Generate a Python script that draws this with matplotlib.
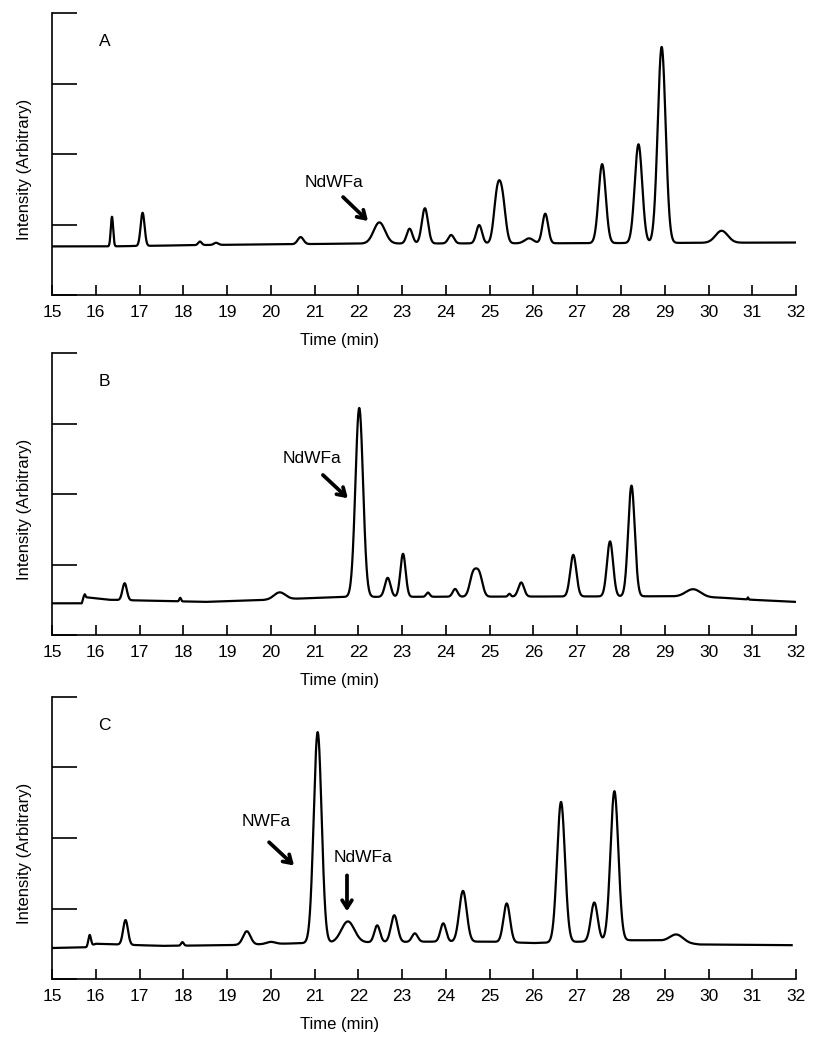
import matplotlib
matplotlib.use("Agg")
import matplotlib.pyplot as plt
import numpy as np

plt.rcParams['font.family'] = ['Liberation Sans', 'DejaVu Sans']

# peak tables: retention time (min), height above baseline, width (sigma, min)
peak_t_A = [16.37, 17.07, 18.38, 18.75, 20.68, 22.48, 23.17, 23.52, 24.12, 24.76, 25.17, 25.29,
            25.90, 26.27, 27.57, 28.40, 28.93, 30.30]
peak_h_A = [0.42, 0.47, 0.05, 0.03, 0.10, 0.30, 0.21, 0.50, 0.12, 0.26, 0.65, 0.58,
            0.07, 0.42, 1.12, 1.40, 2.78, 0.17]
peak_w_A = [0.027, 0.045, 0.04, 0.05, 0.065, 0.13, 0.065, 0.07, 0.065, 0.065, 0.075, 0.075,
            0.10, 0.065, 0.082, 0.085, 0.09, 0.14]
base_t_A = [15, 16.3, 18.5, 22.0, 26.8, 32]
base_y_A = [0.69, 0.69, 0.71, 0.73, 0.735, 0.745]

peak_t_B = [15.75, 16.66, 17.93, 20.20, 22.02, 22.67, 23.02, 23.59, 24.21, 24.62, 24.76,
            25.45, 25.72, 26.91, 27.75, 28.24, 29.65, 30.90]
peak_h_B = [0.04, 0.24, 0.05, 0.10, 2.68, 0.27, 0.61, 0.06, 0.11, 0.31, 0.31,
            0.04, 0.20, 0.59, 0.78, 1.57, 0.11, 0.03]
peak_w_B = [0.015, 0.05, 0.02, 0.13, 0.087, 0.065, 0.06, 0.04, 0.055, 0.075, 0.075,
            0.03, 0.065, 0.07, 0.07, 0.075, 0.17, 0.01]
base_t_B = [15, 15.68, 15.72, 16.3, 18.5, 20.0, 21.5, 29.0, 30.3, 31.0, 32]
base_y_B = [0.45, 0.45, 0.54, 0.50, 0.47, 0.50, 0.54, 0.55, 0.53, 0.50, 0.47]

peak_t_C = [15.86, 16.68, 17.98, 19.45, 20.00, 21.07, 21.76, 22.43, 22.82, 23.29, 23.94,
            24.39, 25.39, 26.63, 27.39, 27.85, 29.27]
peak_h_C = [0.16, 0.35, 0.05, 0.19, 0.03, 2.99, 0.30, 0.24, 0.38, 0.12, 0.26,
            0.72, 0.55, 1.99, 0.55, 2.12, 0.11]
peak_w_C = [0.03, 0.055, 0.03, 0.085, 0.10, 0.09, 0.15, 0.065, 0.075, 0.065, 0.065,
            0.085, 0.075, 0.09, 0.078, 0.09, 0.15]
base_t_C = [15, 15.8, 16.0, 17.5, 19.0, 20.8, 23.6, 25.0, 26.0, 28.2, 28.8, 29.8, 31.9]
base_y_C = [0.44, 0.45, 0.50, 0.47, 0.48, 0.51, 0.53, 0.53, 0.51, 0.55, 0.55, 0.49, 0.48]

x_ticks = list(range(15, 33))

panels = [
    ("A", peak_t_A, peak_h_A, peak_w_A, base_t_A, base_y_A, 32.0),
    ("B", peak_t_B, peak_h_B, peak_w_B, base_t_B, base_y_B, 32.0),
    ("C", peak_t_C, peak_h_C, peak_w_C, base_t_C, base_y_C, 31.9),
]

# arrows: (label, label pos, arrow tail, arrow head)
notes = {
    "A": [("NdWFa", (21.45, 1.6), (21.65, 1.39), (22.22, 1.05))],
    "B": [("NdWFa", (20.95, 2.5), (21.19, 2.27), (21.76, 1.94))],
    "C": [("NWFa", (19.9, 2.23), (19.96, 1.94), (20.53, 1.61)),
          ("NdWFa", (22.1, 1.72), (21.74, 1.47), (21.74, 0.96))],
}

def trace(t, pt, ph, pw, bt, by):
    y = np.interp(t, bt, by)
    for c, h, w in zip(pt, ph, pw):
        y = y + h * np.exp(-(t - c) ** 2 / (2 * w ** 2))
    return y

fig = plt.figure(figsize=(8.28, 10.5), dpi=100)
bottoms = [0.719, 0.3952, 0.0676]

for (name, pt, ph, pw, bt, by, tend), b in zip(panels, bottoms):
    ax = fig.add_axes([0.0628, b, 0.8986, 0.2686])
    t = np.linspace(15, tend, 4000)
    ax.plot(t, trace(t, pt, ph, pw, bt, by), color='black', lw=1.6)
    ax.set_xlim(15, 32)
    ax.set_ylim(0, 4)
    ax.spines['top'].set_visible(False)
    ax.spines['right'].set_visible(False)
    ax.spines['left'].set_linewidth(1.2)
    ax.spines['bottom'].set_linewidth(1.2)
    ax.set_xticks(x_ticks)
    ax.set_yticks([0, 1, 2, 3, 4])
    ax.set_yticklabels([])
    ax.tick_params(axis='x', direction='in', length=7, width=1.2, pad=7, labelsize=12.5)
    ax.tick_params(axis='y', direction='in', length=18, width=1.2)
    ax.set_xlabel("Time (min)", fontsize=12)
    ax.xaxis.set_label_coords(0.387, -0.135)
    ax.set_ylabel("Intensity (Arbitrary)", fontsize=12)
    ax.yaxis.set_label_coords(-0.027, 0.445)
    ax.text(16.2, 3.6, name, fontsize=12.5, ha='center', va='center')
    for lab, lp, tail, head in notes[name]:
        ax.text(lp[0], lp[1], lab, fontsize=12.5, ha='center', va='center')
        ax.annotate('', xy=head, xytext=tail,
                    arrowprops=dict(arrowstyle='->,head_length=0.55,head_width=0.35',
                                    lw=2.7, color='black', shrinkA=0, shrinkB=0))

fig.savefig("out.png", dpi=100)
